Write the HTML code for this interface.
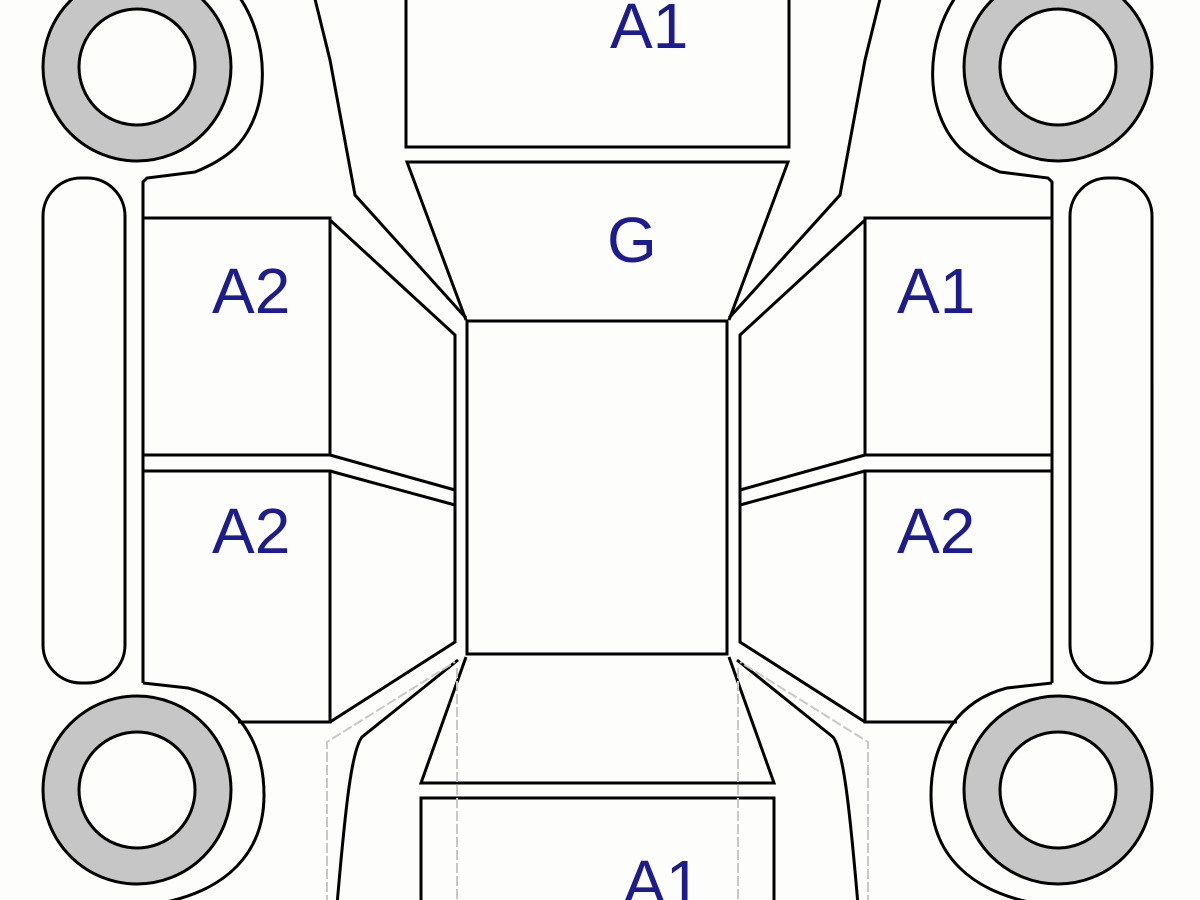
<!DOCTYPE html>
<html><head><meta charset="utf-8"><style>
html,body{margin:0;padding:0;background:#fdfdfb;}
svg{display:block;}
text{font-family:"Liberation Sans",Arial,sans-serif;font-size:64px;fill:#1c1c8e;}
</style></head><body>
<svg width="1200" height="900" viewBox="0 0 1200 900" xmlns="http://www.w3.org/2000/svg">
<rect width="1200" height="900" fill="#fdfdfb"/>
<defs>
<g id="half" fill="none" stroke="#000" stroke-width="3" stroke-linejoin="miter">
  <circle cx="137" cy="67" r="94" fill="#c6c6c6"/>
  <circle cx="137" cy="67" r="58" fill="#fdfdfb"/>
  <circle cx="137" cy="790" r="94" fill="#c6c6c6"/>
  <circle cx="137" cy="790" r="58" fill="#fdfdfb"/>
  <path d="M238,-5 C270,40 272,110 235,148 C222,160 205,168 195,172 L147,178 L143,182 L143,683"/>
  <path d="M143,683 L188,688 C235,700 264,740 264,795 C264,850 230,893 150,905"/>
  <rect x="43" y="178" width="82" height="505" rx="38" ry="38"/>
  <rect x="143" y="218" width="187" height="237"/>
  <path d="M143,683 L143,471 L330,471 L330,722 L238,722"/>
  <path d="M330,220 L455,335 L455,642 L330,722"/>
  <path d="M330,455 L455,490"/>
  <path d="M330,471 L455,505"/>
  <path d="M314,-5 L330,60 L355,195 L466,318"/>
  <path d="M406,-5 L406,147 L598,147"/>
  <path d="M598,162 L407,162 L466,320"/>
  <path d="M466,657 L421,783 L598,783"/>
  <path d="M598,798 L421,798 L421,905"/>
  <path d="M458,660 L362,737 C352,750 346,800 337,905"/>
  <path d="M327,905 L327,742 L455,662" stroke="#c8c8c8" stroke-width="2" stroke-dasharray="10 3"/>
  <path d="M457,668 L457,905" stroke="#c8c8c8" stroke-width="2" stroke-dasharray="10 3"/>
</g>
</defs>
<use href="#half"/>
<use href="#half" transform="translate(1195,0) scale(-1,1)"/>
<rect x="467" y="321" width="260" height="333" fill="none" stroke="#000" stroke-width="3"/>
<text x="610" y="48">A1</text>
<text x="607" y="262">G</text>
<text x="212" y="313">A2</text>
<text x="212" y="553">A2</text>
<text x="897" y="313">A1</text>
<text x="897" y="553">A2</text>
<text x="623" y="905">A1</text>
</svg>
</body></html>
